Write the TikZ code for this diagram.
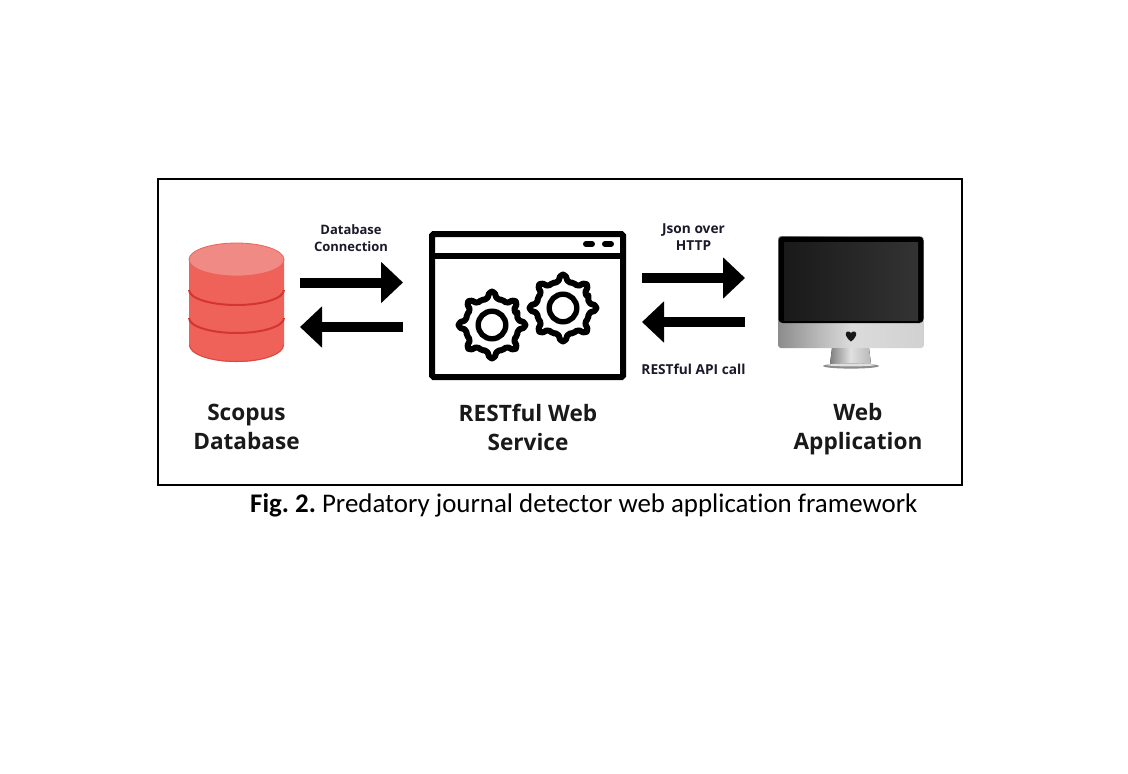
\documentclass[tikz,border=0pt]{standalone}
\usepackage{fontspec}
\setmainfont{Open Sans}
\newfontfamily\capfont[Ligatures=NoCommon]{Carlito}
\usetikzlibrary{arrows.meta,calc}
\definecolor{dbbody}{HTML}{EE625A}
\definecolor{dbtop}{HTML}{F08A85}
\definecolor{dbband}{HTML}{D4352E}
\definecolor{smalltxt}{HTML}{1A1A2A}
\tikzset{
  bigarrow/.style={line width=10pt,-{Triangle[length=22pt,width=40pt]}},
  smalllabel/.style={font=\bfseries\fontsize{13}{16.5}\selectfont,text=smalltxt,align=center,inner sep=0pt},
  smallwide/.style={font=\bfseries\fontsize{13.7}{16.5}\selectfont,text=smalltxt,align=center,inner sep=0pt},
  biglabel/.style={font=\bfseries\fontsize{22.6}{29}\selectfont,text=black!90,align=center,inner sep=0pt},
  iconbox/.style={inner sep=0pt,outer sep=0pt},
  gearline/.style={line width=6pt,line join=round,draw=black,fill=white}
}
\newcommand{\gearat}[2]{%
  \begin{scope}[shift={(#1,#2)}]
    \draw[gearline,rounded corners=2pt] (-22.5:27.5) \foreach \a in {0,45,...,315} {
      -- (\a-11:26) -- (\a-4:33.5) -- (\a+4:33.5) -- (\a+11:26) -- (\a+22.5:27.5)} -- cycle;
    \draw[line width=5.4pt,draw=black,fill=white] (0,0) circle (13.8);
  \end{scope}}
\begin{document}
\begin{tikzpicture}[x=1pt,y=-1pt]
\useasboundingbox (0,0) rectangle (1128,774);
\fill[white] (0,0) rectangle (1128,774);
% frame
\node[draw=black,line width=2pt,minimum width=804pt,minimum height=306pt,iconbox] (frame) at (559.5,331.5) {};
% database
\node[iconbox,minimum width=95pt,minimum height=119pt] (db) at (236.5,302.5) {};
\fill[dbbody] (189,259) -- (189,345) arc[start angle=180,end angle=0,x radius=47.5,y radius=17] -- (284,259) -- cycle;
\draw[dbband!60!dbbody,line width=1pt] (189.5,345) arc[start angle=180,end angle=0,x radius=47,y radius=16.5];
\draw[dbband,line width=2pt] (189,290) arc[start angle=180,end angle=0,x radius=47.5,y radius=15];
\draw[dbband,line width=2pt] (189,318) arc[start angle=180,end angle=0,x radius=47.5,y radius=15];
\fill[dbtop] (236.5,259.5) ellipse[x radius=47.5,y radius=16.5];
\draw[dbbody,line width=0.8pt] (236.5,259.5) ellipse[x radius=47.5,y radius=16.5];
% service window
\node[draw=black,fill=white,line width=6pt,rounded corners=1.5pt,minimum width=191pt,minimum height=143pt,iconbox] (svc) at (527.5,305.5) {};
\draw[black,line width=5.5pt] (svc.west |- 0,256) -- (svc.east |- 0,256);
\draw[black,line width=6pt,line cap=round] (586,244) -- (592,244);
\draw[black,line width=6pt,line cap=round] (605,244) -- (611,244);
\gearat{492}{325}
\gearat{563}{308}
% monitor
\node[rounded corners=3pt,left color=black!45,right color=black!18,middle color=black!14,minimum width=146pt,minimum height=112pt,iconbox] (mac) at (851,292) {};
\fill[left color=black!50,right color=black!28,middle color=black!12] (832,348) -- (869,348) -- (871,364) -- (830,364) -- cycle;
\fill[black!45] (851,366) ellipse[x radius=28,y radius=2.6];
\fill[black!12] (851,365) ellipse[x radius=24,y radius=1.4];
\fill[black,rounded corners=4pt] (778.5,236.5) rectangle (923.5,323);
\fill[left color=black!90,right color=black!80] (784,242) rectangle (918,320);
\fill[black!90] (851,341.5) .. controls (845,337) and (844.5,332.5) .. (847.5,331.5) .. controls (849.5,331) and (850.5,332.4) .. (851,333) .. controls (851.5,332.4) and (852.5,331) .. (854.5,331.5) .. controls (857.5,332.5) and (857,337) .. (851,341.5) -- cycle;
% arrows
\draw[bigarrow] ([yshift=20pt,xshift=16pt]db.east) -- ([yshift=23pt,xshift=-29pt]svc.west);
\draw[bigarrow] ([yshift=-21.5pt,xshift=-29pt]svc.west) -- ([yshift=-24.5pt,xshift=16pt]db.east);
\draw[bigarrow] ([yshift=27.5pt,xshift=19pt]svc.east) -- ([yshift=14pt,xshift=-33pt]mac.west);
\draw[bigarrow] ([yshift=-30pt,xshift=-33pt]mac.west) -- ([yshift=-16.5pt,xshift=19pt]svc.east);
% labels
\node[smalllabel] (l1) at (351,238) {Database\\Connection};
\node[smallwide] (l2) at (693.5,237) {Json over\\HTTP};
\node[smallwide] (l3) at (693.5,369) {RESTful API call};
\node[biglabel] (n1) at (246.5,427) {Scopus\\Database};
\node[biglabel] (n2) at (528,427) {RESTful Web\\Service};
\node[biglabel] (n3) at (858,429) {Web\\Application};
\node[inner sep=0pt,anchor=west,font=\capfont\fontsize{26.9}{30}\selectfont] (cap) at (250,505) {\frenchspacing\textbf{Fig. 2.} Predatory journal detector web application framework};
\end{tikzpicture}
\end{document}
